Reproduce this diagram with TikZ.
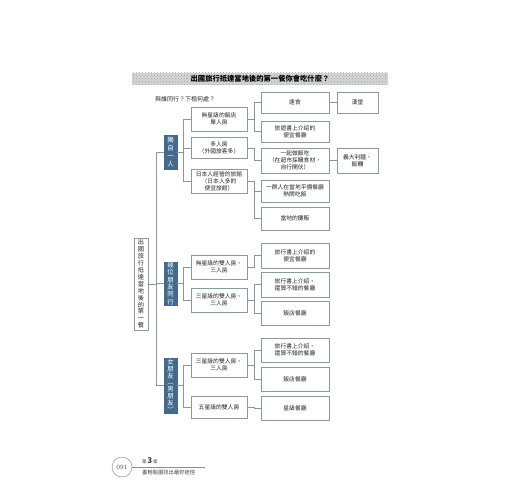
\documentclass[tikz,border=0pt]{standalone}
\usepackage{fontspec}
\newfontfamily\cjk{Noto Sans CJK TC}
\usetikzlibrary{patterns}
\definecolor{linec}{HTML}{8497A2}
\definecolor{boxc}{HTML}{8A9AA3}
\definecolor{lvone}{HTML}{43698C}
\definecolor{titlec}{HTML}{D3D6D9}
\begin{document}
\begin{tikzpicture}[x=1pt,y=-1pt,
  box/.style={draw=boxc,line width=0.6pt,inner sep=0pt,align=center,
    font=\cjk\fontsize{5.8}{7.2}\selectfont,text=black!85},
  lone/.style={fill=lvone,draw=lvone,inner sep=0pt,align=center,
    font=\cjk\fontsize{6.4}{7.3}\selectfont,text=white},
  rootbox/.style={draw=boxc,line width=0.6pt,inner sep=0pt,align=center,
    font=\cjk\fontsize{6.2}{6.9}\selectfont,text=black!85},
  conn/.style={draw=linec,line width=0.6pt}]
\useasboundingbox (0,0) rectangle (520,500);
% title bar
\fill[titlec] (132,73) rectangle (388,85);
\fill[pattern=crosshatch dots,pattern color=black!35] (132,73) rectangle (388,85);
\node[inner sep=0pt,
  font=\cjk\bfseries\fontsize{7.3}{8}\selectfont] (title) at (260,79)
  {出國旅行抵達當地後的第一餐你會吃什麼？};
\node[anchor=west,inner sep=0pt,font=\cjk\fontsize{6}{7}\selectfont,text=black!85] (sub) at (155,99)
  {與誰同行？下榻何處？};
% root
\node[rootbox,minimum width=14pt,minimum height=92pt] (root) at (141,284)
  {出\\國\\旅\\行\\抵\\達\\當\\地\\後\\的\\第\\一\\餐};
% level 1
\node[lone,minimum width=13pt,minimum height=34pt,font=\cjk\fontsize{6.4}{8}\selectfont] (a) at (170.5,152) {獨\\自\\一\\人};
\node[lone,minimum width=13pt,minimum height=43pt] (b) at (170.5,283.5) {幾\\位\\朋\\友\\同\\行};
\node[lone,minimum width=13pt,minimum height=55pt,font=\cjk\fontsize{6.4}{6.8}\selectfont] (c) at (170.5,385.5) {女\\朋\\友\\︵\\男\\朋\\友\\︶};
% level 2
\node[box,minimum width=56pt,minimum height=24pt] (a1) at (219,119) {無星級的飯店\\單人房};
\node[box,minimum width=56pt,minimum height=21pt] (a2) at (219,148) {多人房\\（外國旅客多）};
\node[box,minimum width=56pt,minimum height=24pt] (a3) at (219,181.5) {日本人經營的旅館\\（日本人多的\\便宜旅館）};
\node[box,minimum width=56pt,minimum height=24pt] (b1) at (219,267) {無星級的雙人房、\\三人房};
\node[box,minimum width=56pt,minimum height=24pt] (b2) at (219,300) {三星級的雙人房、\\三人房};
\node[box,minimum width=56pt,minimum height=24pt] (c1) at (219,365) {三星級的雙人房、\\三人房};
\node[box,minimum width=56pt,minimum height=22pt] (c2) at (219,407) {五星級的雙人房};
% level 3
\node[box,minimum width=68pt,minimum height=21pt] (d1) at (295,102.5) {速食};
\node[box,minimum width=68pt,minimum height=21pt] (d2) at (295,131.5) {旅遊書上介紹的\\便宜餐廳};
\node[box,minimum width=68pt,minimum height=25pt] (d3) at (295,160.5) {一起做飯吃\\（在超市採購食材，\\自行開伙）};
\node[box,minimum width=68pt,minimum height=22pt] (d4) at (295,191) {一群人在當地平價餐廳\\熱鬧吃飯};
\node[box,minimum width=68pt,minimum height=23pt] (d5) at (295,218.5) {當地的攤販};
\node[box,minimum width=68pt,minimum height=25pt] (e1) at (295,255.5) {旅行書上介紹的\\便宜餐廳};
\node[box,minimum width=68pt,minimum height=25pt] (e2) at (295,284.5) {旅行書上介紹、\\還算不錯的餐廳};
\node[box,minimum width=68pt,minimum height=24pt] (e3) at (295,313) {飯店餐廳};
\node[box,minimum width=68pt,minimum height=24pt] (f1) at (295,350) {旅行書上介紹、\\還算不錯的餐廳};
\node[box,minimum width=68pt,minimum height=24pt] (f2) at (295,379) {飯店餐廳};
\node[box,minimum width=68pt,minimum height=24pt] (f3) at (295,408) {星級餐廳};
% level 4
\node[box,minimum width=41pt,minimum height=21pt] (g1) at (357.5,102.5) {漢堡};
\node[box,minimum width=41pt,minimum height=25pt] (g2) at (357.5,160.5) {義大利麵、\\飯糰};
% connectors
\foreach \ch in {a,b,c} \draw[conn] (root.east) -- ++(8,0) |- (\ch.west);
\foreach \p/\ch in {a/a1,a/a2,a/a3,b/b1,b/b2,c/c1,c/c2}
  \draw[conn] (\p.east) -- ++(6,0) |- (\ch.west);
\foreach \p/\ch in {a1/d1,a1/d2,a2/d3,a3/d4,a3/d5,b1/e1,b2/e2,b2/e3,c1/f1,c1/f2,c2/f3}
  \draw[conn] (\p.east) -- ++(7,0) |- (\ch.west);
\draw[conn] (d1.east) -- (g1.west);
\draw[conn] (d3.east) -- (g2.west);
% footer
\node[draw=black!50,circle,minimum size=20pt,inner sep=0pt,font=\fontsize{6.5}{7}\selectfont,text=black!75] (pg) at (122,467) {091};
\coordinate (fend) at (205,467);
\draw[black!45,line width=0.4pt] (pg.east) -- (fend);
\node[anchor=south west,inner sep=0pt,font=\cjk\fontsize{4.5}{5}\selectfont,text=black!75] (ch) at (142,464)
  {第\,{\fontsize{8}{8}\selectfont\bfseries 3}\,章};
\node[anchor=north west,inner sep=0pt,font=\cjk\fontsize{5.3}{6}\selectfont,text=black!75] (cht) at (142,469.5)
  {畫輕鬆圖找出最好途徑};
\end{tikzpicture}
\end{document}
